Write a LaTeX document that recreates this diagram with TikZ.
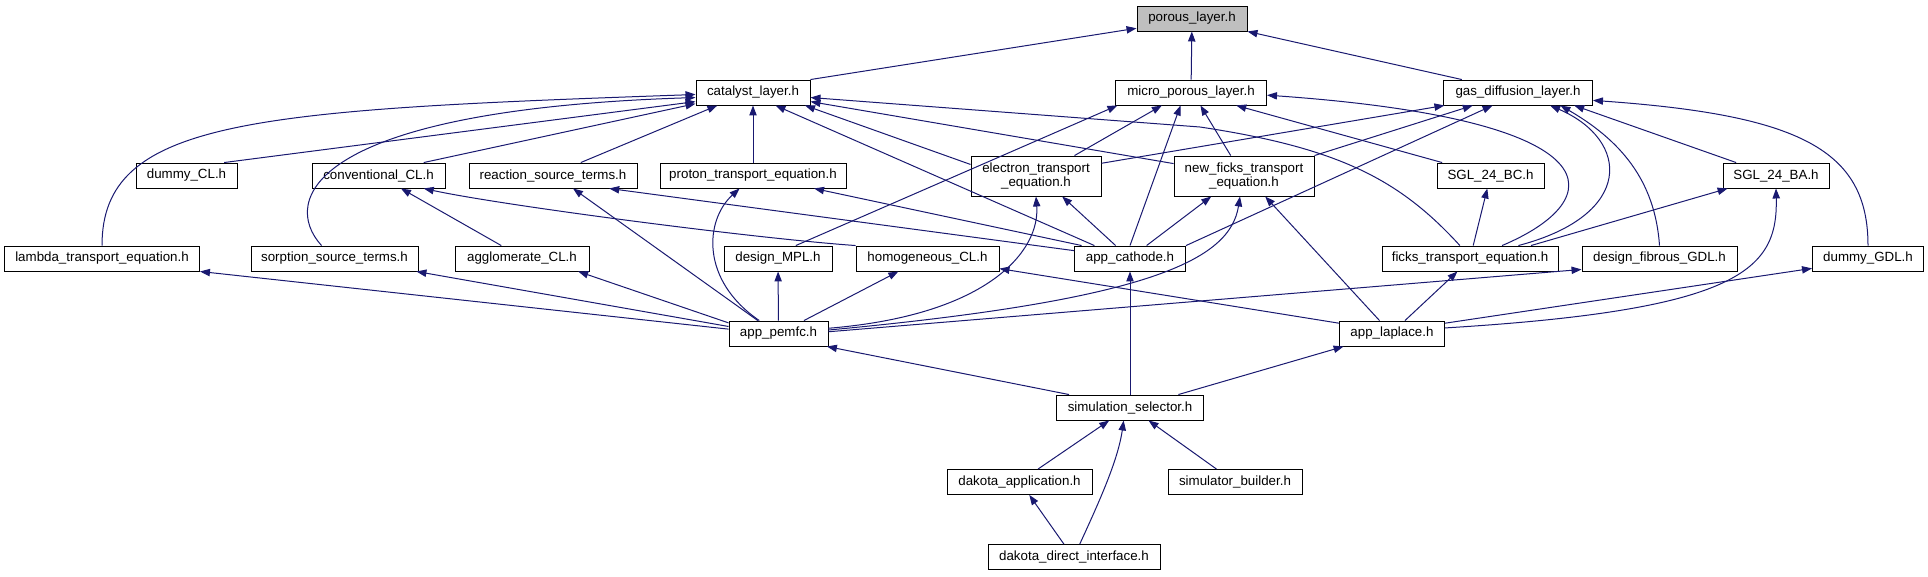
\documentclass[tikz,border=0pt]{standalone}
\usepackage{fontspec}
\setmainfont{Liberation Sans}
\usetikzlibrary{arrows.meta,positioning}
\definecolor{dxblue}{RGB}{25,25,112}
\definecolor{dxgray}{RGB}{191,191,191}

\begin{document}
\begin{tikzpicture}[x=0.75pt,y=-0.75pt,
  hfile/.style={draw=black,line width=0.7pt,fill=white,inner sep=0pt,minimum height=18.75pt,
    font=\fontsize{10}{11}\selectfont,align=center},
  hwide/.style={minimum width=#1*0.75pt},
  htwo/.style={minimum height=30pt},
  incarr/.style={dxblue,line width=0.75pt,-{Triangle[length=7.5pt,width=5.5pt]}}
]
  \useasboundingbox (0,0) rectangle (1928,576);

  % Root header
  \node[hfile,fill=dxgray,hwide=110] (porous) at (1192,18.5) {porous\_layer.h};

  % Layer headers
  \node[hfile,hwide=114] (catalyst) at (753,92.5) {catalyst\_layer.h};
  \node[hfile,hwide=151] (microporous) at (1191,92.5) {micro\_porous\_layer.h};
  \node[hfile,hwide=149] (gasdiff) at (1518,92.5) {gas\_diffusion\_layer.h};

  % Second row
  \node[hfile,hwide=101] (dummycl) at (186.5,175.5) {dummy\_CL.h};
  \node[hfile,hwide=133] (conventional) at (378.5,175.5) {conventional\_CL.h};
  \node[hfile,hwide=168] (reaction) at (553,175.5) {reaction\_source\_terms.h};
  \node[hfile,hwide=186] (proton) at (753,175.5) {proton\_transport\_equation.h};
  \node[hfile,htwo,hwide=130] (electron) at (1036,176) {electron\_transport\\\_equation.h};
  \node[hfile,htwo,hwide=140] (newficks) at (1244,176) {new\_ficks\_transport\\\_equation.h};
  \node[hfile,hwide=107] (sglbc) at (1490.5,175.5) {SGL\_24\_BC.h};
  \node[hfile,hwide=106] (sglba) at (1776,175.5) {SGL\_24\_BA.h};

  % Third row
  \node[hfile,hwide=195] (lambda) at (102,258.5) {lambda\_transport\_equation.h};
  \node[hfile,hwide=167] (sorption) at (334.5,258.5) {sorption\_source\_terms.h};
  \node[hfile,hwide=134] (agglomerate) at (522,258.5) {agglomerate\_CL.h};
  \node[hfile,hwide=108] (designmpl) at (778,258.5) {design\_MPL.h};
  \node[hfile,hwide=143] (homogeneous) at (927.5,258.5) {homogeneous\_CL.h};
  \node[hfile,hwide=111] (cathode) at (1130,258.5) {app\_cathode.h};
  \node[hfile,hwide=176] (ficks) at (1470,258.5) {ficks\_transport\_equation.h};
  \node[hfile,hwide=155] (fibrous) at (1659.5,258.5) {design\_fibrous\_GDL.h};
  \node[hfile,hwide=111] (dummygdl) at (1868,258.5) {dummy\_GDL.h};

  % Applications
  \node[hfile,hwide=99] (pemfc) at (778.5,333.5) {app\_pemfc.h};
  \node[hfile,hwide=105] (laplace) at (1392,333.5) {app\_laplace.h};

  % Selector and dakota
  \node[hfile,hwide=147] (selector) at (1130,407.5) {simulation\_selector.h};
  \node[hfile,hwide=145] (dakapp) at (1019.5,482) {dakota\_application.h};
  \node[hfile,hwide=134] (builder) at (1235,482) {simulator\_builder.h};
  \node[hfile,hwide=172] (dakdirect) at (1074,557) {dakota\_direct\_interface.h};

  % Into porous_layer.h
  \draw[incarr] (catalyst.north east) -- (porous.190);
  \draw[incarr] (microporous) -- (porous);
  \draw[incarr] (gasdiff.167) -- (porous.south east);

  % Into catalyst_layer.h
  \draw[incarr] (lambda.north) .. controls (102,120) and (250,110) .. (catalyst.182);
  \draw[incarr] (dummycl.19) -- (catalyst.189);
  \draw[incarr] (sorption.135) .. controls (280,200) and (310,110) .. (catalyst.185);
  \draw[incarr] (conventional.16) -- (catalyst.191);
  \draw[incarr] (reaction.25) -- (catalyst.200);
  \draw[incarr] (proton) -- (catalyst);
  \draw[incarr] (cathode.160) -- (catalyst.330);
  \draw[incarr] (electron.170) -- (catalyst.346);
  \draw[incarr] (newficks.170) -- (catalyst.351);
  \draw[incarr] (ficks.128) .. controls (1400,180) and (1340,148) .. (1200,127) -- (catalyst.355);

  % Into micro_porous_layer.h
  \draw[incarr] (designmpl.36) -- (microporous.190);
  \draw[incarr] (electron.28) -- (microporous.204);
  \draw[incarr] (cathode.north) -- (microporous.231);
  \draw[incarr] (newficks.123) -- (microporous.306);
  \draw[incarr] (sglbc.165) -- (microporous.344);
  \draw[incarr] (ficks.22) .. controls (1610,200) and (1620,120) .. (microporous.358);

  % Into gas_diffusion_layer.h
  \draw[incarr] (electron.11) -- (gasdiff.190);
  \draw[incarr] (newficks.north east) -- (gasdiff.196);
  \draw[incarr] (cathode.13) -- (gasdiff.207);
  \draw[incarr] (ficks.15) .. controls (1635,215) and (1630,140) .. (gasdiff.338);
  \draw[incarr] (fibrous.north) .. controls (1655,180) and (1620,140) .. (gasdiff.343);
  \draw[incarr] (sglba.162) -- (gasdiff.347);
  \draw[incarr] (dummygdl.north) .. controls (1868,150) and (1800,115) .. (gasdiff.354);

  % Into the second row
  \draw[incarr] (ficks) -- (sglbc);
  \draw[incarr] (ficks.12) -- (sglba.195);
  \draw[incarr] (laplace.6) .. controls (1740,310) and (1778,270) .. (sglba.south);
  \draw[incarr] (cathode.138) -- (electron.322);
  \draw[incarr] (pemfc.6) .. controls (990,315) and (1040,250) .. (electron.south);
  \draw[incarr] (cathode.38) -- (newficks.212);
  \draw[incarr] (pemfc.4) .. controls (1150,300) and (1230,260) .. (newficks.259);
  \draw[incarr] (laplace.134) -- (newficks.316);
  \draw[incarr] (cathode.165) -- (proton.348);
  \draw[incarr] (pemfc.146) .. controls (700,280) and (705,220) .. (proton.224);
  \draw[incarr] (cathode.172) -- (reaction.347);
  \draw[incarr] (pemfc.148) -- (reaction.327);
  \draw[incarr] (agglomerate.148) -- (conventional.330);
  \draw[incarr] (homogeneous.north west) .. controls (750,238) and (500,205) .. (conventional.344);

  % Into the third row
  \draw[incarr] (pemfc.175) -- (lambda.south east);
  \draw[incarr] (pemfc.172) -- (sorption.351);
  \draw[incarr] (pemfc.168) -- (agglomerate.347);
  \draw[incarr] (pemfc) -- (designmpl);
  \draw[incarr] (pemfc.27) -- (homogeneous.204);
  \draw[incarr] (laplace.169) -- (homogeneous.352);
  \draw[incarr] (pemfc.2) -- (fibrous.188);
  \draw[incarr] (laplace.45) -- (ficks.226);
  \draw[incarr] (laplace.11) -- (dummygdl.190);
  \draw[incarr] (selector) -- (cathode);

  % Selector and dakota
  \draw[incarr] (selector.168) -- (pemfc.345);
  \draw[incarr] (selector.15) -- (laplace.195);
  \draw[incarr] (dakapp.35) -- (selector.212);
  \draw[incarr] (builder.145) -- (selector.325);
  \draw[incarr] (dakdirect.66) .. controls (1100,500) and (1118,460) .. (selector.244);
  \draw[incarr] (dakdirect.128) -- (dakapp.307);
\end{tikzpicture}
\end{document}
